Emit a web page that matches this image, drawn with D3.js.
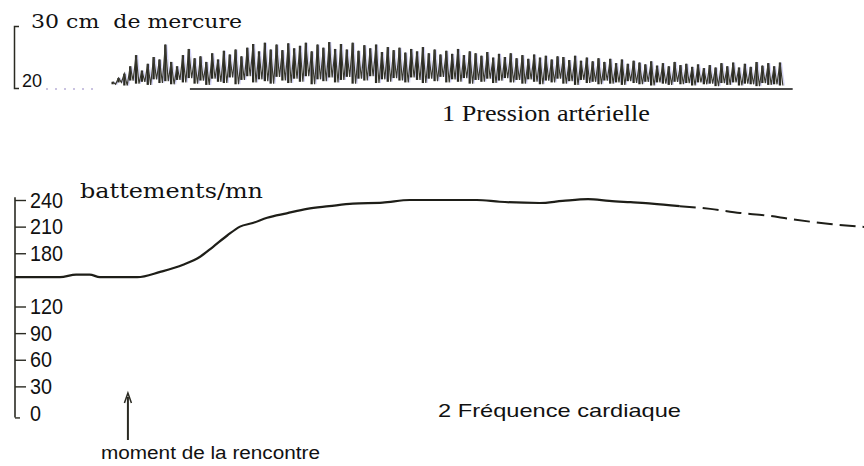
<!DOCTYPE html>
<html>
<head>
<meta charset="utf-8">
<script src="https://cdn.jsdelivr.net/npm/d3@7"></script>
<style>
  body { margin: 0; background: #fff; }
  svg { display: block; }
</style>
</head>
<body>
<svg id="chart" width="864" height="466"></svg>
<script>
// ---- Heart rate (beats per minute) over time (arbitrary time units 0..100) ----
const hrTime = [0, 5.3, 7.2, 8.8, 10, 14.4, 17.1, 19.8, 21.8, 23.3, 25, 26.5, 28, 29.7, 32, 34.4, 37, 39.8,
  43.3, 46.5, 54.4, 57.1, 61.8, 64.5, 67.5, 70, 72.5, 75, 78.3, 81.9, 85.4, 88.6, 91.3, 96, 100];
const hrBpm = [153, 153, 156, 156, 153, 153, 159, 167, 176, 187, 200, 210, 214, 220, 225, 230, 233, 236,
  237, 240, 240, 238, 236.6, 239, 241, 239, 237.5, 236, 233, 230, 225.4, 222.5, 218.6, 213, 209.6];
const hrTicks = [0, 30, 60, 90, 120, 180, 210, 240];
const hrDashedFrom = 78.3;          // the recording becomes broken after this time

// ---- Arterial pressure (cm of mercury), one peak / trough per beat ----
const pressureMax = [
  21.0, 21.6, 22.3, 23.5, 25.3, 22.8, 23.9, 25.0, 24.6, 27.0,
  24.2, 23.5, 25.3, 26.3, 24.8, 25.1, 24.2, 25.6, 24.6, 26.0,
  25.4, 26.2, 25.1, 26.5, 27.1, 25.9, 27.3, 26.2, 27.0, 26.1,
  27.2, 26.4, 26.8, 27.3, 25.9, 27.0, 26.5, 27.4, 26.3, 27.1,
  26.2, 27.3, 26.0, 26.9, 26.4, 27.0, 25.8, 26.6, 26.1, 26.5,
  25.7, 26.3, 25.9, 26.6, 25.6, 26.2, 25.4, 26.0, 25.5, 26.3,
  25.3, 25.9, 25.6, 25.2, 25.8, 24.9, 25.5, 25.0, 25.6, 24.8,
  25.3, 24.7, 25.4, 24.9, 25.2, 24.6, 25.1, 25.0, 24.5, 25.2,
  24.4, 24.9, 24.3, 24.8, 24.2, 24.7, 24.0, 24.6, 23.9, 24.4,
  24.1, 23.8, 24.3, 23.6, 24.0, 23.5, 24.2, 23.7, 23.9, 23.4,
  23.8, 23.2, 23.7, 23.3, 24.0, 23.5, 24.1, 23.3, 23.9, 23.4,
  24.2, 23.6, 24.0, 23.5, 24.1];
const pressureMin = [
  20.6, 20.9, 20.4, 21.2, 20.7, 21.0, 20.5, 21.4, 20.8, 21.1,
  20.6, 21.3, 20.9, 21.6, 20.7, 21.2, 20.5, 21.5, 21.0, 20.8,
  21.7, 20.6, 21.3, 21.9, 20.9, 21.4, 21.1, 20.7, 21.8, 21.2,
  20.8, 21.5, 21.0, 21.9, 20.6, 21.4, 21.1, 21.7, 20.9, 21.3,
  21.8, 20.7, 21.5, 21.2, 21.9, 20.8, 21.4, 21.0, 21.6, 21.2,
  20.9, 21.7, 21.3, 20.8, 21.5, 21.1, 21.8, 20.9, 21.4, 21.0,
  21.6, 20.7, 21.3, 21.0, 21.5, 20.8, 21.2, 21.6, 20.9, 21.3,
  20.7, 21.4, 21.0, 20.6, 21.2, 20.9, 21.5, 20.7, 21.1, 20.5,
  21.3, 20.8, 21.0, 20.6, 21.2, 20.7, 20.9, 20.5, 21.1, 20.8,
  20.6, 21.0, 20.4, 20.9, 20.7, 20.5, 21.0, 20.6, 20.8, 20.4,
  20.9, 20.6, 20.7, 20.3, 20.8, 20.5, 20.9, 20.4, 20.7, 20.6,
  20.3, 20.8, 20.5, 20.6, 20.4];
const pressureSpan = [11.5, 90.1];       // time of the first and last beat
const pressureRefSpan = [20.6, 91.6];    // time extent of the 20 cm reference line
const pressureTicks = [20, 30];

const meetingTime = 13.3;                // "moment de la rencontre"

// ---- Layout ----
const svg = d3.select("#chart");
svg.append("rect").attr("width", 864).attr("height", 466).attr("fill", "#fff");

const x = d3.scaleLinear().domain([0, 100]).range([15, 864]);
const yP = d3.scaleLinear().domain([20, 30]).range([88, 26]);
const yH = d3.scaleLinear().domain([0, 240]).range([413, 200]);

const ink = "#2a2a22";
const serif = "'DejaVu Serif', 'Liberation Serif', serif";
const sans = "'Liberation Sans', Arial, sans-serif";

// ===== Panel 1 : arterial pressure =====
const gP = svg.append("g");

// bracket-shaped scale
gP.append("g")
  .attr("transform", `translate(${x(0) - 1},0)`)
  .call(d3.axisRight(yP).tickValues([]).tickSizeOuter(5))
  .call(g => g.select(".domain").attr("stroke", ink).attr("stroke-width", 1.5).attr("fill", "none"));

gP.append("text")
  .attr("x", 31).attr("y", yP(pressureTicks[1]) + 2)
  .attr("font-family", serif)
  .attr("font-size", 19)
  .style("white-space", "pre")
  .attr("textLength", 211).attr("lengthAdjust", "spacingAndGlyphs")
  .attr("fill", "#111")
  .text("30 cm  de mercure");

gP.append("text")
  .attr("x", 22).attr("y", yP(pressureTicks[0]) - 1)
  .attr("font-family", sans)
  .attr("font-size", 18)
  .attr("fill", "#111")
  .text("20");

// faint dotted trail after the "20" label
gP.append("line")
  .attr("x1", 46).attr("x2", 98)
  .attr("y1", yP(20) + 1).attr("y2", yP(20) + 1)
  .attr("stroke", "#b9b0d8").attr("stroke-width", 1.5)
  .attr("stroke-dasharray", "2,7");

// reference line at 20 cm
gP.append("line")
  .attr("x1", x(pressureRefSpan[0])).attr("x2", x(pressureRefSpan[1]))
  .attr("y1", yP(20) + 1).attr("y2", yP(20) + 1)
  .attr("stroke", "#111").attr("stroke-width", 1.6);

// beats
const nBeats = Math.min(pressureMax.length, pressureMin.length);
const beatX = d3.scaleLinear().domain([0, nBeats - 1]).range([x(pressureSpan[0]), x(pressureSpan[1])]);
const beats = d3.range(nBeats).map(i => ({ i, hi: pressureMax[i], lo: pressureMin[i] }));
const half = (beatX(1) - beatX(0)) / 2;

const zig = [];
beats.forEach(b => {
  zig.push([beatX(b.i), yP(b.hi)]);
  zig.push([beatX(b.i) + half, yP(b.lo)]);
});

// bluish fringe of the trace
gP.append("path")
  .attr("d", d3.line()(zig.map(p => [p[0] + 1.4, p[1]])))
  .attr("fill", "none").attr("stroke", "#b4b4ee").attr("stroke-width", 1.2).attr("opacity", 0.6);

// pen strokes: upstroke of each beat
gP.selectAll("line.beat")
  .data(beats)
  .join("line")
  .attr("class", "beat")
  .attr("x1", b => beatX(b.i)).attr("x2", b => beatX(b.i))
  .attr("y1", b => yP(b.lo)).attr("y2", b => yP(b.hi))
  .attr("stroke", ink).attr("stroke-width", 2.3);

gP.append("path")
  .attr("d", d3.line()(zig))
  .attr("fill", "none").attr("stroke", "#3a3a30").attr("stroke-width", 1.2);

gP.append("text")
  .attr("x", 442).attr("y", 121)
  .attr("font-family", "'Liberation Serif', 'Times New Roman', serif")
  .attr("font-size", 24)
  .attr("textLength", 208).attr("lengthAdjust", "spacingAndGlyphs")
  .attr("fill", "#111")
  .text("1 Pression artérielle");

// ===== Panel 2 : heart rate =====
const gH = svg.append("g");

const yAxis = d3.axisRight(yH)
  .tickValues(hrTicks)
  .tickSize(11)
  .tickPadding(4)
  .tickSizeOuter(0)
  .tickFormat(d3.format("d"));

gH.append("g")
  .attr("transform", `translate(${x(0)},0)`)
  .call(yAxis)
  .call(g => g.select(".domain")
    .attr("d", `M0,${yH(-5)}V${yH(243)}`)
    .attr("stroke", ink).attr("stroke-width", 1.6))
  .call(g => g.selectAll(".tick line").attr("stroke", ink).attr("stroke-width", 1.4)
    .attr("x2", d => d === 0 ? 5 : 11)
    .attr("transform", d => d === 0 ? `translate(0,${yH(-5) - yH(0)})` : null))
  .call(g => g.selectAll(".tick text")
    .attr("font-family", sans)
    .attr("font-size", 22)
    .attr("textLength", d => String(d).length * 11)
    .attr("lengthAdjust", "spacingAndGlyphs")
    .attr("fill", "#111"));

gH.append("text")
  .attr("x", 80).attr("y", 198)
  .attr("font-family", serif)
  .attr("font-size", 20)
  .attr("textLength", 183).attr("lengthAdjust", "spacingAndGlyphs")
  .attr("fill", "#111")
  .text("battements/mn");

const hrData = hrTime.map((t, i) => ({ t, v: hrBpm[i] }));
const hrLine = d3.line().x(d => x(d.t)).y(d => yH(d.v)).curve(d3.curveMonotoneX);

gH.append("path")
  .datum(hrData.filter(d => d.t <= hrDashedFrom))
  .attr("d", hrLine)
  .attr("fill", "none").attr("stroke", "#1e1e18").attr("stroke-width", 2.2);

gH.append("path")
  .datum(hrData.filter(d => d.t >= hrDashedFrom))
  .attr("d", hrLine)
  .attr("fill", "none").attr("stroke", "#1e1e18").attr("stroke-width", 2)
  .attr("stroke-dasharray", "16,7");

gH.append("text")
  .attr("x", 438).attr("y", 417)
  .attr("font-family", sans)
  .attr("font-size", 19)
  .attr("textLength", 243).attr("lengthAdjust", "spacingAndGlyphs")
  .attr("fill", "#111")
  .text("2 Fréquence cardiaque");

// arrow marking the meeting
const ax = x(meetingTime);
gH.append("line")
  .attr("x1", ax).attr("x2", ax).attr("y1", 440).attr("y2", 397)
  .attr("stroke", ink).attr("stroke-width", 2);
gH.append("path")
  .attr("d", `M${ax - 3.5},${403} L${ax},${393} L${ax + 3.5},${403}`)
  .attr("fill", "none").attr("stroke", ink).attr("stroke-width", 1.5);

gH.append("text")
  .attr("x", 101).attr("y", 459)
  .attr("font-family", sans)
  .attr("font-size", 18)
  .attr("textLength", 219).attr("lengthAdjust", "spacingAndGlyphs")
  .attr("fill", "#111")
  .text("moment de la rencontre");
</script>
</body>
</html>
